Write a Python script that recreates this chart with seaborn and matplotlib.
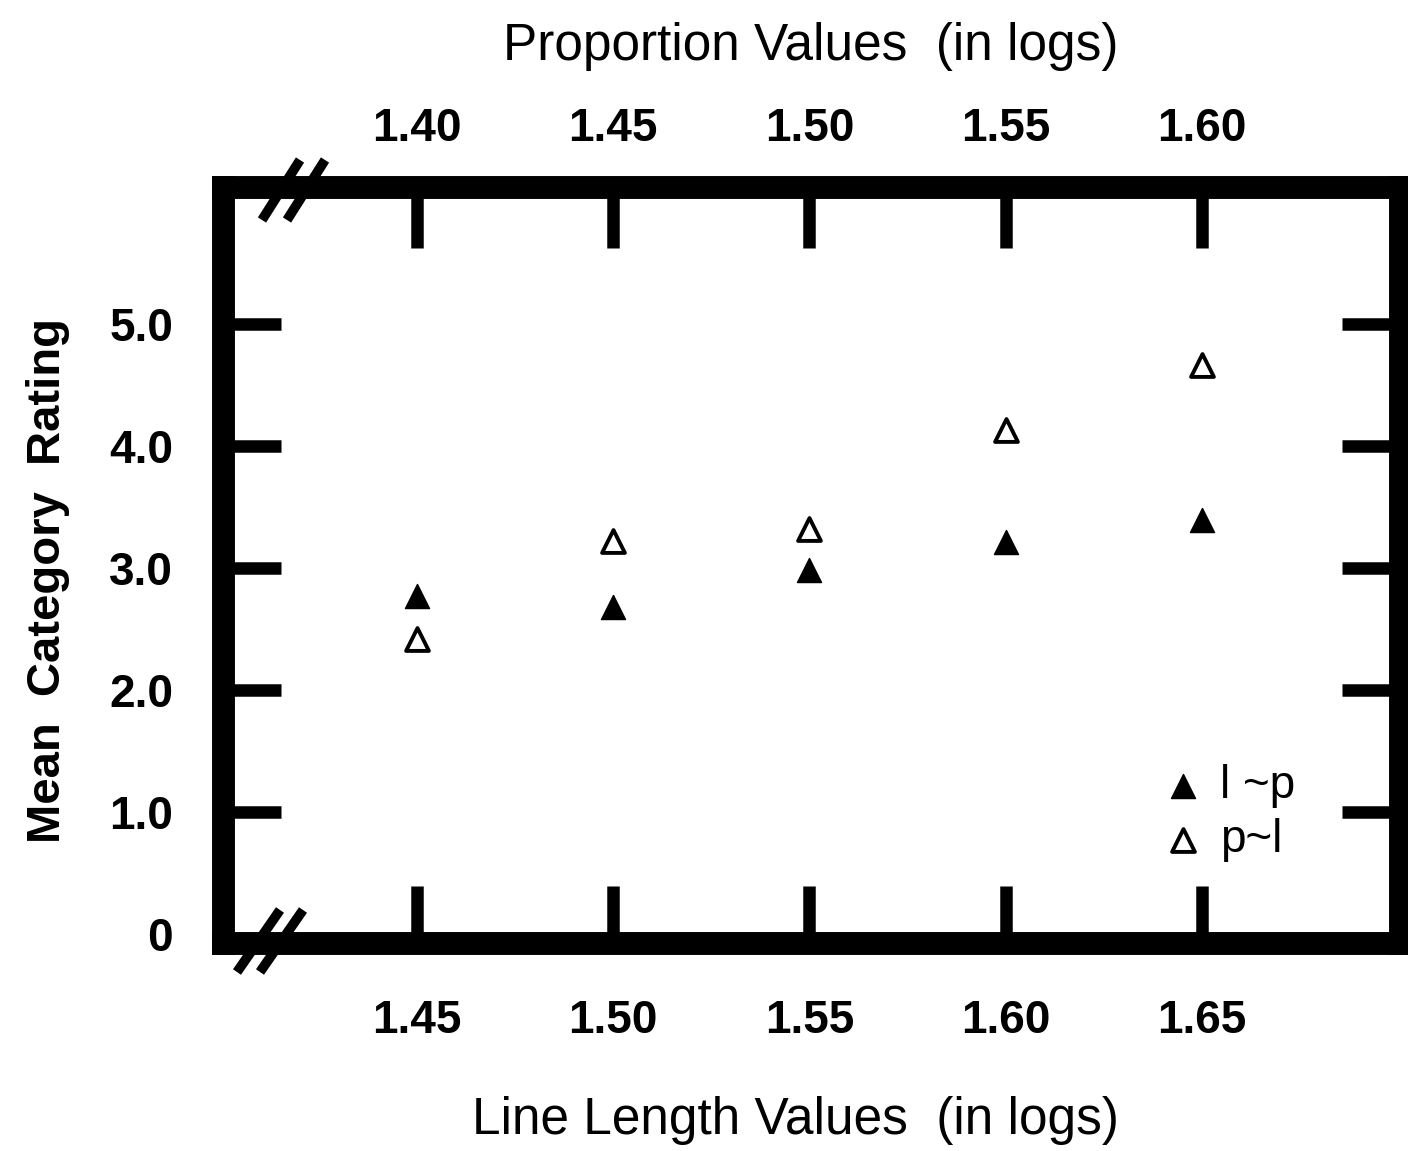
import matplotlib
matplotlib.use("Agg")
import matplotlib.pyplot as plt
from matplotlib.lines import Line2D
import seaborn as sns
import pandas as pd

# ---- data ----
line_length = [1.45, 1.50, 1.55, 1.60, 1.65]
rating_lp = [2.77, 2.68, 2.98, 3.21, 3.39]   # filled triangles  "l ~p"
rating_pl = [2.42, 3.22, 3.32, 4.13, 4.66]   # open triangles    "p~l"
bottom_ticks = [1.45, 1.50, 1.55, 1.60, 1.65]
bottom_ticklabels = ["1.45", "1.50", "1.55", "1.60", "1.65"]
top_ticks = [1.40, 1.45, 1.50, 1.55, 1.60]
top_ticklabels = ["1.40", "1.45", "1.50", "1.55", "1.60"]
y_ticks = [0, 1, 2, 3, 4, 5]
y_ticklabels = ["0", "1.0", "2.0", "3.0", "4.0", "5.0"]
series_labels = ["l ~p", "p~l"]

df_lp = pd.DataFrame({"x": line_length, "y": rating_lp})
df_pl = pd.DataFrame({"x": line_length, "y": rating_pl})

sns.set_theme(style="white")
plt.rcParams["font.family"] = ["Liberation Sans", "DejaVu Sans"]
plt.rcParams["text.color"] = "black"
plt.rcParams["axes.labelcolor"] = "black"

fig = plt.figure(figsize=(14.08, 11.51), dpi=100)
ax = fig.add_axes([223 / 1408, 1 - 943 / 1151, (1400 - 223) / 1408, (943 - 187) / 1151])

sns.scatterplot(data=df_lp, x="x", y="y", marker="^", s=300, color="black",
                edgecolor="black", linewidth=1, ax=ax, label=series_labels[0], zorder=3)
sns.scatterplot(data=df_pl, x="x", y="y", marker="^", s=270, facecolor="white",
                edgecolor="black", linewidth=2.8, ax=ax, label=series_labels[1], zorder=3)

ax.set_xlim(1.4006, 1.7005)
ax.set_ylim(-0.074, 6.12)

for sp in ax.spines.values():
    sp.set_visible(True)
    sp.set_linewidth(16.5)
    sp.set_color("black")
    sp.set_capstyle("projecting")

ax.set_xticks(bottom_ticks)
ax.set_xticklabels(bottom_ticklabels, fontweight="bold")
ax.set_yticks(y_ticks)
ax.set_yticklabels(y_ticklabels, fontweight="bold")
ax.tick_params(axis="x", direction="in", length=41, width=9, pad=40,
               labelsize=33, bottom=True, top=False, colors="black")
ax.tick_params(axis="y", direction="in", length=42, width=9, pad=36,
               labelsize=33, left=True, right=True, labelright=False, colors="black")
ax.yaxis.get_major_ticks()[0].tick1line.set_visible(False)
ax.yaxis.get_major_ticks()[0].tick2line.set_visible(False)

secax = ax.secondary_xaxis("top", functions=(lambda v: v - 0.05, lambda v: v + 0.05))
secax.set_xticks(top_ticks)
secax.set_xticklabels(top_ticklabels, fontweight="bold")
secax.tick_params(axis="x", direction="in", length=44, width=9, pad=26,
                  labelsize=33, colors="black")
secax.spines["top"].set_visible(False)

ax.set_xlabel("Line Length Values  (in logs)", fontsize=37)
ax.xaxis.set_label_coords(0.486, -0.203)
secax.set_xlabel("Proportion Values  (in logs)", fontsize=37)
secax.xaxis.set_label_coords(0.499, 1.168, transform=ax.transAxes)
ax.set_ylabel("Mean  Category  Rating", fontsize=34, fontweight="bold")
ax.yaxis.set_label_coords(-0.130, 0.48)

leg = ax.legend(loc="center left", bbox_to_anchor=(0.781, 0.172), frameon=False,
                fontsize=33, handletextpad=0.3, labelspacing=0.2,
                handlelength=1.0, borderaxespad=0)

# axis break marks
def slash(x0, y0, x1, y1):
    fig.add_artist(Line2D([x0 / 1408, x1 / 1408], [1 - y0 / 1151, 1 - y1 / 1151],
                          color="black", lw=7, solid_capstyle="butt"))

slash(262, 220, 300, 160)
slash(287, 220, 325, 160)
slash(237, 972, 280, 910)
slash(260, 972, 303, 910)

fig.savefig("out.png", dpi=100, facecolor="white")
